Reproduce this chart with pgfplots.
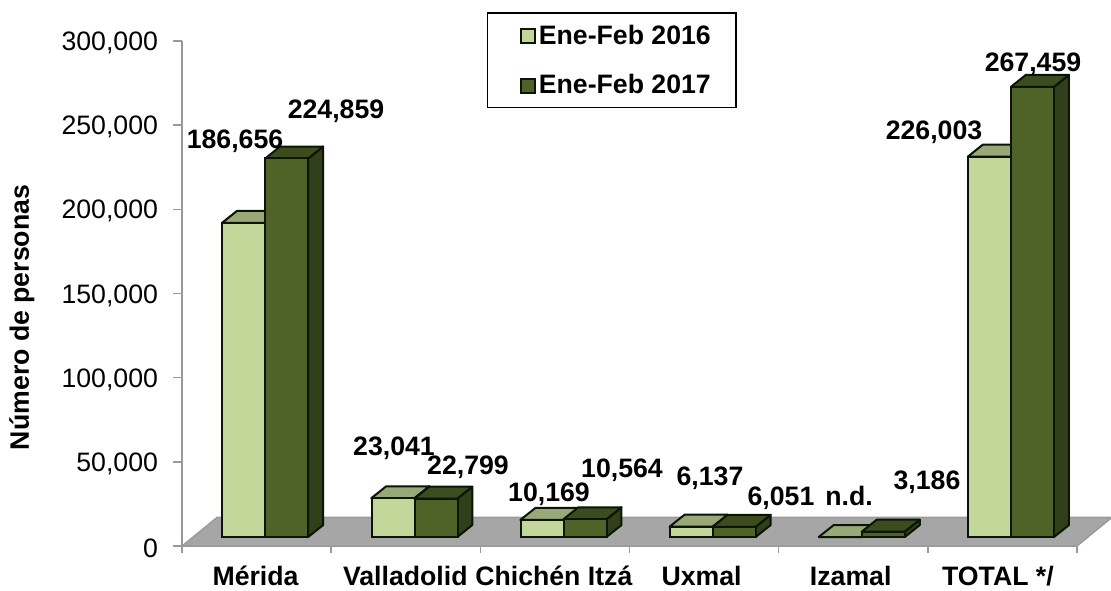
\documentclass[border=0pt]{standalone}
\usepackage{pgfplots}
\pgfplotsset{compat=1.18}
\usepackage{fontspec}
\setmainfont{Liberation Sans}
\definecolor{lightF}{HTML}{C4D79B}
\definecolor{lightT}{HTML}{98A876}
\definecolor{lightS}{HTML}{7F8F5F}
\definecolor{darkF}{HTML}{4F6228}
\definecolor{darkT}{HTML}{3D4C1F}
\definecolor{darkS}{HTML}{31401A}
\definecolor{edgeC}{HTML}{0C1405}
\definecolor{axisG}{HTML}{999999}
\definecolor{floorG}{HTML}{A6A6A6}
% top and side faces of a bar: category, value, left, right offset, top colour, side colour
\newcommand\faces[6]{%
  \edef\vv{\the\numexpr#2+5336\relax}%
  \edef\vt{\the\numexpr#2+5336+7115\relax}%
  \pgfmathsetmacro\xl{#1+#3}%
  \pgfmathsetmacro\xr{#1+#4}%
  \pgfmathsetmacro\xlb{#1+#3+0.1007}%
  \pgfmathsetmacro\xrb{#1+#4+0.1007}%
  \addplot[fill=#6,draw=edgeC,line width=1.5pt,line join=round,forget plot] coordinates {(\xr,5336) (\xrb,12451) (\xrb,\vt) (\xr,\vv)} --cycle;
  \addplot[fill=#5,draw=edgeC,line width=1.5pt,line join=round,forget plot] coordinates {(\xl,\vv) (\xlb,\vt) (\xrb,\vt) (\xr,\vv)} --cycle;
}
\newcommand\lab[3]{\node[font=\fontsize{20}{24}\selectfont\bfseries,text=black,inner sep=0pt,anchor=center] at (#1,-#2) {#3};}
\begin{document}
\begin{tikzpicture}[x=0.75pt,y=0.75pt]
\useasboundingbox (0,0) rectangle (1111,-590);
\begin{axis}[
  at={(136.5pt,-409.5pt)},anchor=south west,
  scale only axis,width=671.25pt,height=378.75pt,
  xmin=-0.5,xmax=5.5,ymin=0,ymax=300000,
  clip=false,
  axis x line=bottom,axis y line=left,
  axis line style={-,draw=axisG,line width=1.2pt},
  every tick/.style={draw=axisG,line width=1.2pt},
  tick align=outside,
  major tick length=6.5pt,
  xtick={-0.007,0.997,1.993,2.983,3.983,4.97},
  major x tick style={draw=none},
  minor xtick={-0.5,0.5,1.5,2.5,3.5,4.5,5.5},
  minor tick length=5.25pt,
  minor x tick style={draw=axisG,line width=1.2pt},
  xticklabels={Mérida,Valladolid,Chichén Itzá,Uxmal,Izamal,TOTAL */},
  xticklabel style={font=\fontsize{20}{24}\selectfont\bfseries,inner sep=0pt,yshift=-8.5pt,text=black},
  ytick={0,50000,100000,150000,200000,250000,300000},
  yticklabels={0,{50,000},{100,000},{150,000},{200,000},{250,000},{300,000}},
  scaled y ticks=false,
  yticklabel style={font=\fontsize{20}{24}\selectfont,xshift=-8pt,yshift=-1.5pt,text=black},
  ylabel={Número de personas},
  ylabel style={font=\fontsize{20}{24}\selectfont\bfseries,at={(axis description cs:-0.1790,0.4526)},anchor=center,text=black},
  legend style={at={(0.3405,1.057)},anchor=north west,draw=black,line width=1.2pt,fill=white,
    font=\fontsize{20}{24}\selectfont\bfseries,inner xsep=17pt,inner ysep=7pt,row sep=17pt,
    legend cell align=left},
]
% floor
\addplot[fill=floorG,draw=axisG,line width=1pt,forget plot] coordinates {(-0.5,0) (5.5,0) (5.735,17000) (-0.265,17000)} --cycle;
% light series
\faces{0}{186656}{-0.2315}{0.0570}{lightT}{lightS}
\faces{1}{23041}{-0.2315}{0.0570}{lightT}{lightS}
\faces{2}{10169}{-0.2315}{0.0570}{lightT}{lightS}
\faces{3}{6137}{-0.2315}{0.0570}{lightT}{lightS}
\faces{4}{0}{-0.2315}{0.0570}{lightT}{lightS}
\faces{5}{226003}{-0.2315}{0.0570}{lightT}{lightS}
\addplot[ybar,bar width=32.25pt,bar shift=-9.5pt,yshift=6.75pt,fill=lightF,draw=edgeC,line width=1.5pt,
  legend image code/.code={\path (0pt,-5pt); \draw[fill=lightF,draw=edgeC,line width=1.5pt] (7pt,-12.5pt) rectangle (18pt,-2pt);}]
  coordinates {(0,186656) (1,23041) (2,10169) (3,6137) (4,0) (5,226003)};
\addlegendentry{Ene-Feb 2016}
% dark series
\faces{0}{224859}{0.0570}{0.3456}{darkT}{darkS}
\faces{1}{22799}{0.0570}{0.3456}{darkT}{darkS}
\faces{2}{10564}{0.0570}{0.3456}{darkT}{darkS}
\faces{3}{6051}{0.0570}{0.3456}{darkT}{darkS}
\faces{4}{3186}{0.0570}{0.3456}{darkT}{darkS}
\faces{5}{267459}{0.0570}{0.3456}{darkT}{darkS}
\addplot[ybar,bar width=32.25pt,bar shift=22.75pt,yshift=6.75pt,fill=darkF,draw=edgeC,line width=1.5pt,
  legend image code/.code={\path (0pt,-5pt); \draw[fill=darkF,draw=edgeC,line width=1.5pt] (7pt,-12.5pt) rectangle (18pt,-2pt);}]
  coordinates {(0,224859) (1,22799) (2,10564) (3,6051) (4,3186) (5,267459)};
\addlegendentry{Ene-Feb 2017}
\end{axis}
\lab{235}{141}{186,656}
\lab{336}{111}{224,859}
\lab{394}{448}{23,041}
\lab{468}{467}{22,799}
\lab{549}{494}{10,169}
\lab{622}{470}{10,564}
\lab{710}{478}{6,137}
\lab{781}{498}{6,051}
\lab{849}{496}{n.d.}
\lab{927}{482}{3,186}
\lab{934}{132}{226,003}
\lab{1033}{64}{267,459}
\end{tikzpicture}
\end{document}
